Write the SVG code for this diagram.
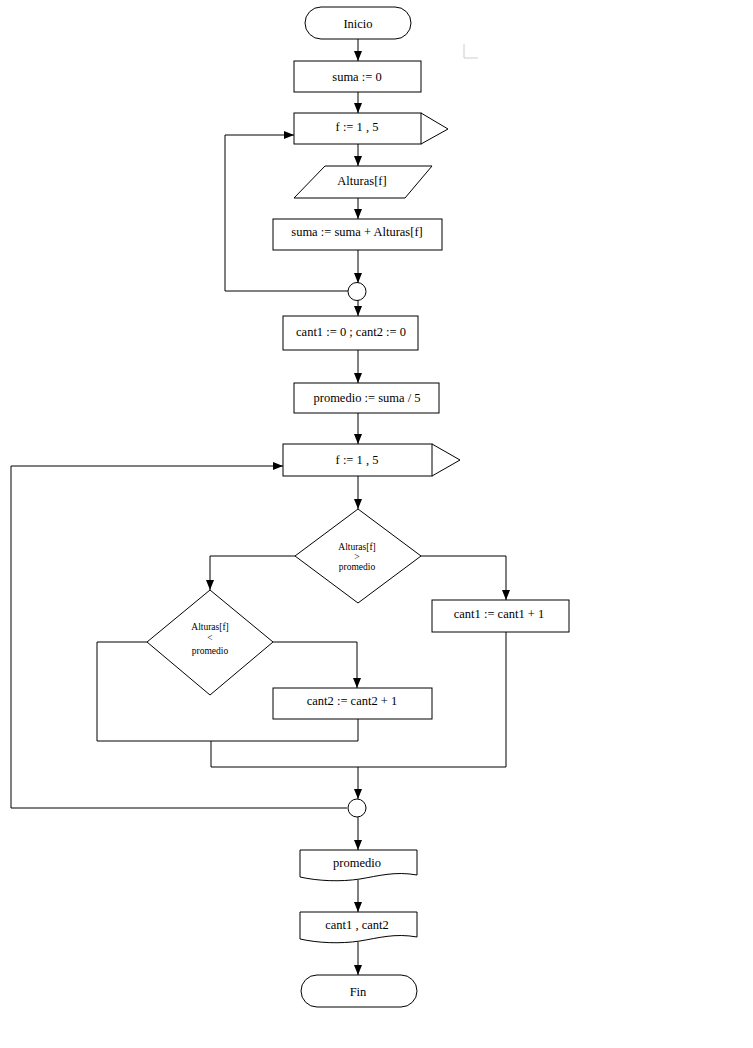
<svg xmlns="http://www.w3.org/2000/svg" width="753" height="1048" viewBox="0 0 753 1048">
<style>
.s{fill:#fff;stroke:#000;stroke-width:1}
.c{fill:none;stroke:#000;stroke-width:1}
.t{font-family:"Liberation Serif","Times New Roman",serif;font-size:12.5px;fill:#000;text-anchor:middle}
.ts{font-family:"Liberation Serif","Times New Roman",serif;font-size:9.5px;fill:#000;text-anchor:middle}
</style>
<defs>
<marker id="a" viewBox="0 0 10 10" refX="10" refY="5" markerWidth="10" markerHeight="10" markerUnits="userSpaceOnUse" orient="auto">
<path d="M0,1 L10,5 L0,9 Z" fill="#000"/>
</marker>
</defs>
<rect width="753" height="1048" fill="#fff"/>
<polyline points="464,44 464,58 478,58" fill="none" stroke="#ccc" stroke-width="1"/>
<g id="connectors">
<line class="c" x1="358" y1="39" x2="358" y2="61" marker-end="url(#a)"/>
<line class="c" x1="358" y1="92" x2="358" y2="113" marker-end="url(#a)"/>
<line class="c" x1="358" y1="144" x2="358" y2="166" marker-end="url(#a)"/>
<line class="c" x1="358" y1="198" x2="358" y2="219" marker-end="url(#a)"/>
<line class="c" x1="358" y1="250" x2="358" y2="283" marker-end="url(#a)"/>
<polyline class="c" points="348,291 225,291 225,135 294,135" marker-end="url(#a)"/>
<line class="c" x1="358" y1="300" x2="358" y2="316" marker-end="url(#a)"/>
<line class="c" x1="358" y1="350" x2="358" y2="383" marker-end="url(#a)"/>
<line class="c" x1="358" y1="413" x2="358" y2="444" marker-end="url(#a)"/>
<line class="c" x1="358" y1="476" x2="358" y2="509" marker-end="url(#a)"/>
<polyline class="c" points="421,556 506,556 506,600" marker-end="url(#a)"/>
<polyline class="c" points="295,556 210,556 210,590" marker-end="url(#a)"/>
<polyline class="c" points="273,642 357,642 357,688" marker-end="url(#a)"/>
<polyline class="c" points="147,642 97,642 97,741 358,741 358,719"/>
<polyline class="c" points="211,741 211,767 506,767 506,632"/>
<line class="c" x1="358" y1="767" x2="358" y2="799" marker-end="url(#a)"/>
<polyline class="c" points="347,808 11,808 11,466 283,466" marker-end="url(#a)"/>
<line class="c" x1="358" y1="817" x2="358" y2="850" marker-end="url(#a)"/>
<line class="c" x1="358" y1="880" x2="358" y2="912" marker-end="url(#a)"/>
<line class="c" x1="358" y1="942" x2="358" y2="975" marker-end="url(#a)"/>
</g>
<g id="inicio">
<rect class="s" x="305" y="7" width="106" height="32" rx="16" ry="16"/>
<text class="t" x="358" y="28">Inicio</text>
</g>
<g id="suma0">
<rect class="s" x="294" y="61" width="127" height="31"/>
<text class="t" x="357" y="81">suma := 0</text>
</g>
<g id="for1">
<path class="s" d="M421,113 L448,129 L421,144"/>
<rect class="s" x="294" y="113" width="127" height="31"/>
<text class="t" x="357" y="131">f := 1 , 5</text>
</g>
<g id="leer">
<polygon class="s" points="325,166 432,166 405,198 294,198"/>
<text class="t" x="362" y="185">Alturas[f]</text>
</g>
<g id="acum">
<rect class="s" x="273" y="219" width="169" height="31"/>
<text class="t" x="357" y="236">suma := suma + Alturas[f]</text>
</g>
<g id="conn1">
<circle class="s" cx="357" cy="291.5" r="9"/>
</g>
<g id="init">
<rect class="s" x="283" y="316" width="135" height="34"/>
<text class="t" x="351" y="336">cant1 := 0 ; cant2 := 0</text>
</g>
<g id="prom">
<rect class="s" x="294" y="383" width="145" height="30"/>
<text class="t" x="367" y="402">promedio := suma / 5</text>
</g>
<g id="for2">
<path class="s" d="M432,444 L460,460 L432,476"/>
<rect class="s" x="283" y="444" width="149" height="32"/>
<text class="t" x="357" y="464">f := 1 , 5</text>
</g>
<g id="dec1">
<polygon class="s" points="358,509 421,556 358,603 295,556"/>
<text class="ts" x="357" y="550">Alturas[f]</text>
<text class="ts" x="357" y="560">&gt;</text>
<text class="ts" x="357" y="570">promedio</text>
</g>
<g id="inc1">
<rect class="s" x="432" y="600" width="137" height="32"/>
<text class="t" x="499" y="618">cant1 := cant1 + 1</text>
</g>
<g id="dec2">
<polygon class="s" points="210,590 273,642 210,695 147,642"/>
<text class="ts" x="210" y="630">Alturas[f]</text>
<text class="ts" x="210" y="641">&lt;</text>
<text class="ts" x="210" y="654">promedio</text>
</g>
<g id="inc2">
<rect class="s" x="273" y="688" width="159" height="31"/>
<text class="t" x="352" y="705">cant2 := cant2 + 1</text>
</g>
<g id="conn2">
<circle class="s" cx="357" cy="808" r="9"/>
</g>
<g id="out1">
<path class="s" d="M300,850 H417 V875 C395,871 378,876 360,879 C340,882 318,881 300,877 Z"/>
<text class="t" x="357" y="867">promedio</text>
</g>
<g id="out2">
<path class="s" d="M300,912 H417 V937 C395,933 378,938 360,941 C340,944 318,943 300,939 Z"/>
<text class="t" x="357" y="929">cant1 , cant2</text>
</g>
<g id="fin">
<rect class="s" x="301" y="975" width="116" height="32" rx="16" ry="16"/>
<text class="t" x="358" y="996">Fin</text>
</g>
</svg>
